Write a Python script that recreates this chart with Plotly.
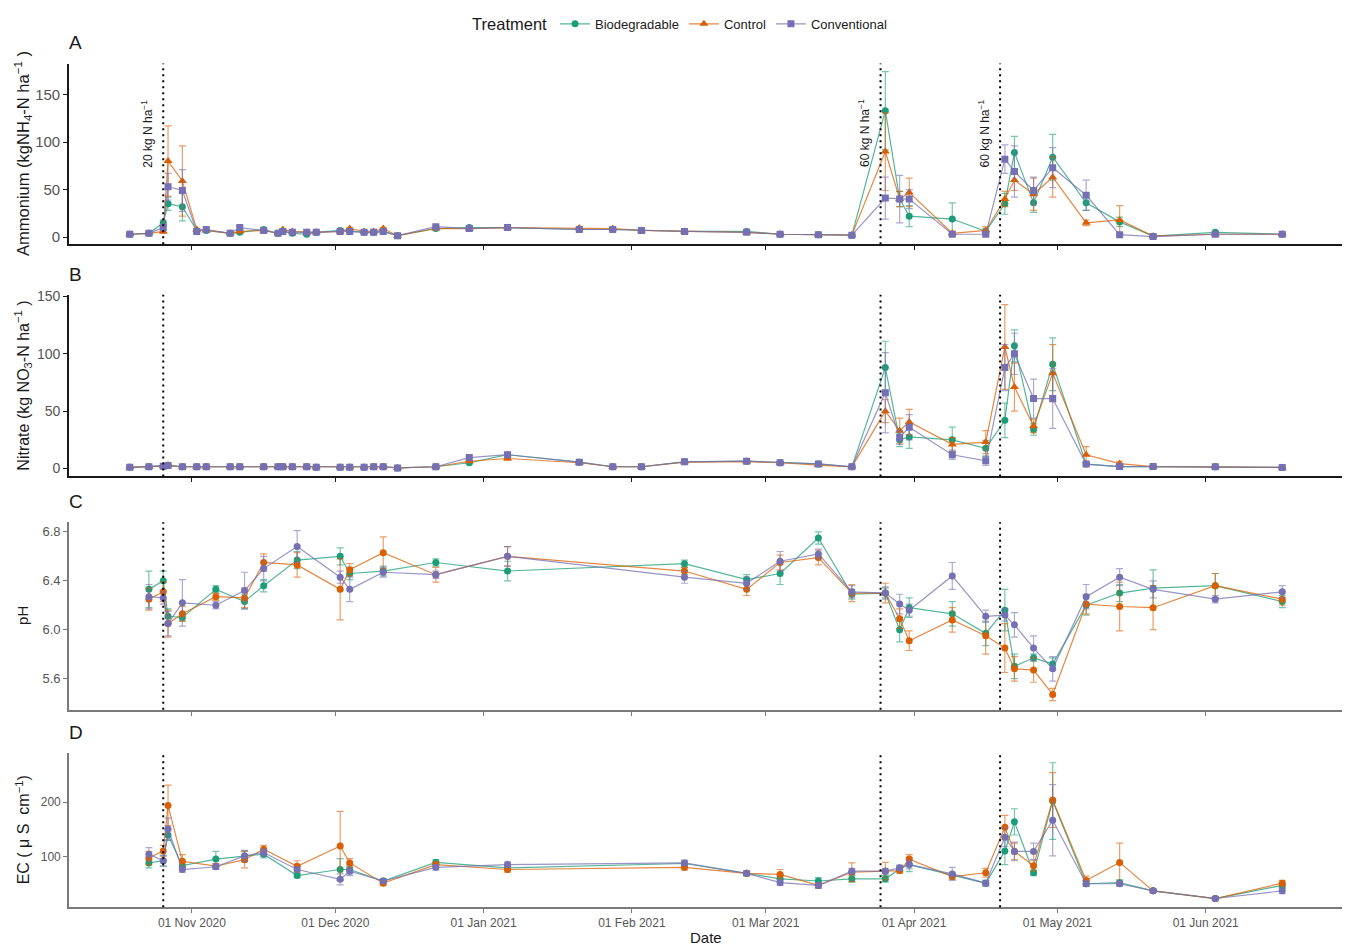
import plotly.graph_objects as go

W, H = 1354, 946
FONT = "Liberation Sans, Arial, sans-serif"

TREATMENTS = ["Biodegradable", "Control", "Conventional"]
COLORS = ["#1B9E77", "#D95F02", "#7570B3"]
SYMBOLS_N = ["circle", "triangle-up", "square"]

# fertiliser applications (date, label)
FERT_DATES = ["2020-10-26", "2021-03-25", "2021-04-19"]
FERT_LABELS = ["20 kg N ha<sup>−1</sup>", "60 kg N ha<sup>−1</sup>", "60 kg N ha<sup>−1</sup>"]

# ---- mineral N sampling dates ----
N_DATES = ["2020-10-19", "2020-10-23", "2020-10-26", "2020-10-27", "2020-10-30", "2020-11-02",
           "2020-11-04", "2020-11-09", "2020-11-11", "2020-11-16", "2020-11-19", "2020-11-20",
           "2020-11-22", "2020-11-25", "2020-11-27", "2020-12-02", "2020-12-04", "2020-12-07",
           "2020-12-09", "2020-12-11", "2020-12-14", "2020-12-22", "2020-12-29", "2021-01-06",
           "2021-01-21", "2021-01-28", "2021-02-03", "2021-02-12", "2021-02-25", "2021-03-04",
           "2021-03-12", "2021-03-19", "2021-03-26", "2021-03-29", "2021-03-31", "2021-04-09",
           "2021-04-16", "2021-04-20", "2021-04-22", "2021-04-26", "2021-04-30", "2021-05-07",
           "2021-05-14", "2021-05-21", "2021-06-03", "2021-06-17"]

NH4_BIO = [3, 4, 15, 35, 32, 7, 7, 4, 5, 8, 4, 6, 4, 3, 5, 7, 6, 5, 5, 6, 1.5, 9, 10, 10, 8, 8, 7, 6, 6, 3,
           2.5, 2, 133, 40, 22, 19, 6, 35, 89, 36, 84, 36, 16, 1, 5, 3]
NH4_BIO_SE = [1, 1, 3, 7, 15, 1, 1, 1, 1, 1, 1, 1, 1, 1, 1, 1, 1, 1, 1, 1, 1, 1, 1, 1, 1, 1, 1, 1, 1, 1,
              1, 1, 41, 8, 11, 17, 3, 11, 17, 10, 24, 8, 5, 1, 1, 1]
NH4_CTRL = [3, 4, 6, 80, 59, 8, 7, 4, 6, 7, 4, 8, 6, 5, 5, 6, 9, 6, 6, 9, 1.5, 9, 9, 10, 9.5, 9, 7, 6, 5, 3,
            2.5, 2, 90, 40, 47, 4, 7, 40, 60, 45, 63, 15, 18, 1, 3, 3]
NH4_CTRL_SE = [1, 1, 2, 37, 37, 1, 1, 1, 1, 1, 1, 1, 1, 1, 1, 1, 1, 1, 1, 1, 1, 1, 1, 1, 1, 1, 1, 1, 1, 1,
               1, 1, 41, 8, 15, 2, 4, 8, 11, 17, 21, 3, 15, 1, 1, 1]
NH4_CONV = [3, 4, 10, 53, 49, 6, 8, 4, 10, 7, 4, 6, 5, 5, 5, 6, 6, 5, 5, 6, 1.5, 11, 9, 10, 8, 8, 7, 6, 5, 3,
            2.5, 2, 41, 40, 40, 3, 3, 82, 69, 49, 73, 44, 2.5, 0.5, 3, 3]
NH4_CONV_SE = [1, 1, 2, 14, 22, 1, 1, 1, 2, 1, 1, 1, 1, 1, 1, 1, 1, 1, 1, 1, 1, 1, 1, 1, 1, 1, 1, 1, 1, 1,
               1, 1, 22, 25, 10, 1, 1, 15, 27, 14, 21, 16, 1, 0.5, 1, 1]

NO3_BIO = [1, 1.5, 2, 2.5, 1.5, 1.5, 1.5, 1.5, 1.5, 1.5, 1.5, 1.5, 1.5, 1.5, 1, 1, 1, 1, 1.5, 1.5,
           0.5, 1.5, 5, 12, 5.5, 1.5, 1.5, 5.8, 6.4, 5, 4, 1.4, 88, 25, 27.5, 25, 17.6, 42, 107, 34,
           91, 3.8, 1.7, 1.7, 1.4, 0.9]
NO3_BIO_SE = [0.5] * 20 + [0.5, 0.5, 1, 1.5, 1, 0.5, 0.5, 1, 1, 1,
                           1, 0.5, 23, 6, 10, 11, 7, 15, 14, 5, 23, 1, 0.5, 0.5, 0.5, 0.5]
NO3_CTRL = [1, 1.5, 2, 3, 1.5, 1.5, 1.5, 1.5, 1.5, 1.5, 1.5, 1.5, 1.5, 1.5, 1, 1, 1, 1, 1.5, 1.5,
            0.5, 1.5, 6.3, 8.7, 5, 1.5, 1.5, 5.5, 6, 5, 3, 1.4, 50, 33, 40.5, 21, 23, 106, 71, 37,
            83, 12, 4.3, 1.7, 1.4, 0.9]
NO3_CTRL_SE = [0.5] * 20 + [0.5, 0.5, 1, 1.5, 1, 0.5, 0.5, 1, 1, 1,
                            1, 0.5, 10, 11, 11, 6, 10, 37, 21, 6, 25, 7, 2, 0.5, 0.5, 0.5]
NO3_CONV = [1, 1.5, 2, 2.5, 1.5, 1.5, 1.5, 1.5, 1.5, 1.5, 1.5, 1.5, 1.5, 1.5, 1, 1, 1, 1, 1.5, 1.5,
            0.5, 1.5, 9.5, 12, 5.5, 1.5, 1.5, 5.8, 6.4, 5, 4, 1.4, 66, 27, 36, 12, 6.7, 88, 100, 61,
            61, 3.8, 1.7, 1.7, 1.4, 0.9]
NO3_CONV_SE = [0.5] * 20 + [0.5, 0.5, 1, 1.5, 1, 0.5, 0.5, 1, 1, 1,
                            1, 0.5, 35, 6, 11, 4, 4, 20, 18, 17, 26, 1, 0.5, 0.5, 0.5, 0.5]

# ---- soil pH / EC sampling dates ----
S_DATES = ["2020-10-23", "2020-10-26", "2020-10-27", "2020-10-30", "2020-11-06", "2020-11-12",
           "2020-11-16", "2020-11-23", "2020-12-02", "2020-12-04", "2020-12-11", "2020-12-22",
           "2021-01-06", "2021-02-12", "2021-02-25", "2021-03-04", "2021-03-12", "2021-03-19",
           "2021-03-26", "2021-03-29", "2021-03-31", "2021-04-09", "2021-04-16", "2021-04-20",
           "2021-04-22", "2021-04-26", "2021-04-30", "2021-05-07", "2021-05-14", "2021-05-21",
           "2021-06-03", "2021-06-17"]

PH_BIO = [6.33, 6.40, 6.11, 6.10, 6.33, 6.23, 6.36, 6.57, 6.60, 6.46, 6.48, 6.55, 6.48, 6.54, 6.41, 6.46,
          6.75, 6.29, 6.30, 6.00, 6.18, 6.13, 5.97, 6.16, 5.70, 5.77, 5.72, 6.20, 6.30, 6.34, 6.36, 6.23]
PH_BIO_SE = [0.15, 0.08, 0.06, 0.03, 0.03, 0.06, 0.05, 0.07, 0.07, 0.05, 0.04, 0.03, 0.08, 0.03, 0.04, 0.09,
             0.05, 0.04, 0.04, 0.1, 0.08, 0.1, 0.1, 0.17, 0.1, 0.03, 0.05, 0.08, 0.07, 0.15, 0.1, 0.05]
PH_CTRL = [6.25, 6.31, 6.05, 6.13, 6.27, 6.26, 6.55, 6.53, 6.33, 6.49, 6.63, 6.45, 6.60, 6.48, 6.33, 6.55,
           6.59, 6.30, 6.30, 6.09, 5.91, 6.08, 5.95, 5.85, 5.68, 5.67, 5.47, 6.21, 6.19, 6.18, 6.36, 6.25]
PH_CTRL_SE = [0.09, 0.08, 0.11, 0.06, 0.03, 0.08, 0.07, 0.10, 0.25, 0.05, 0.13, 0.06, 0.08, 0.03, 0.05, 0.06,
              0.06, 0.07, 0.08, 0.08, 0.08, 0.1, 0.15, 0.2, 0.1, 0.1, 0.05, 0.08, 0.2, 0.18, 0.1, 0.05]
PH_CONV = [6.27, 6.26, 6.05, 6.22, 6.20, 6.32, 6.50, 6.68, 6.43, 6.33, 6.47, 6.45, 6.60, 6.43, 6.38, 6.56,
           6.62, 6.31, 6.30, 6.21, 6.16, 6.44, 6.11, 6.12, 6.04, 5.85, 5.68, 6.27, 6.43, 6.33, 6.25, 6.31]
PH_CONV_SE = [0.1, 0.05, 0.1, 0.19, 0.03, 0.15, 0.1, 0.13, 0.05, 0.1, 0.04, 0.03, 0.08, 0.05, 0.05, 0.08,
              0.04, 0.05, 0.05, 0.08, 0.05, 0.11, 0.05, 0.05, 0.1, 0.1, 0.1, 0.1, 0.07, 0.07, 0.03, 0.05]

EC_BIO = [89, 93, 140, 84, 96, 101, 105, 66, 77, 77, 56, 90, 80, 88, 70, 60,
          56, 60, 60, 78, 86, 67, 52, 111, 164, 71, 202, 51, 53, 38, 24, 48]
EC_BIO_SE = [9, 10, 10, 5, 14, 10, 7, 4, 20, 8, 4, 5, 5, 5, 4, 5,
             6, 6, 6, 5, 13, 5, 5, 25, 24, 5, 70, 5, 5, 3, 3, 5]
EC_CTRL = [98, 111, 194, 92, 83, 95, 114, 83, 120, 89, 52, 86, 77, 81, 70, 68,
           48, 72, 74, 75, 96, 64, 71, 154, 110, 84, 204, 57, 90, 38, 24, 52]
EC_CTRL_SE = [12, 10, 37, 12, 5, 15, 7, 10, 63, 8, 4, 5, 5, 5, 4, 9,
              5, 17, 16, 5, 8, 5, 8, 22, 15, 10, 50, 8, 35, 3, 3, 5]
EC_CONV = [105, 93, 151, 77, 82, 102, 108, 77, 59, 74, 56, 81, 86, 89, 70, 53,
           48, 74, 74, 80, 86, 69, 52, 136, 110, 110, 167, 51, 51, 38, 24, 38]
EC_CONV_SE = [12, 10, 20, 5, 5, 10, 7, 5, 10, 8, 4, 5, 5, 5, 4, 5,
              5, 5, 5, 5, 8, 12, 5, 17, 17, 15, 65, 5, 5, 3, 3, 5]

X_RANGE = ["2020-10-06 07:00", "2021-06-29 12:00"]


def rgba(hex_color, a):
    h = hex_color.lstrip("#")
    r, g, b = int(h[0:2], 16), int(h[2:4], 16), int(h[4:6], 16)
    return f"rgba({r},{g},{b},{a})"


def px_x(p):
    return p / W


def px_y(p):
    return 1 - p / H


# panel geometry in pixels: left, right, top, bottom
LEFT, RIGHT = 69, 1342
panels = [
    dict(letter="A", top=58, bottom=240, dates=N_DATES,
         series=[(NH4_BIO, NH4_BIO_SE), (NH4_CTRL, NH4_CTRL_SE), (NH4_CONV, NH4_CONV_SE)],
         symbols=SYMBOLS_N, yrange=[-7.5, 182.5], ticks=[0, 50, 100, 150], tickfmt="d",
         title="Ammonium (kgNH<sub>4</sub>-N ha<sup>−1</sup> )", title_size=16.5, tick_size=15,
         axis_color="#1a1a1a"),
    dict(letter="B", top=291, bottom=474, dates=N_DATES,
         series=[(NO3_BIO, NO3_BIO_SE), (NO3_CTRL, NO3_CTRL_SE), (NO3_CONV, NO3_CONV_SE)],
         symbols=SYMBOLS_N, yrange=[-7, 151.5], ticks=[0, 50, 100, 150], tickfmt="d",
         title="Nitrate (kg NO<sub>3</sub>-N ha<sup>−1</sup> )", title_size=16, tick_size=14,
         axis_color="#1a1a1a"),
    dict(letter="C", top=520, bottom=709, dates=S_DATES,
         series=[(PH_BIO, PH_BIO_SE), (PH_CTRL, PH_CTRL_SE), (PH_CONV, PH_CONV_SE)],
         symbols=["circle"] * 3, yrange=[5.345, 6.88], ticks=[5.6, 6.0, 6.4, 6.8], tickfmt=".1f",
         title="pH", title_size=15, tick_size=13, axis_color="#7a7a7a"),
    dict(letter="D", top=753, bottom=908, dates=S_DATES,
         series=[(EC_BIO, EC_BIO_SE), (EC_CTRL, EC_CTRL_SE), (EC_CONV, EC_CONV_SE)],
         symbols=["circle"] * 3, yrange=[8, 289], ticks=[100, 200], tickfmt="d",
         title="EC ( μ S  cm<sup>−1</sup>)", title_size=16, tick_size=12, axis_color="#7a7a7a"),
]

fig = go.Figure()
layout = dict(
    width=W, height=H, margin=dict(l=0, r=0, t=0, b=0),
    paper_bgcolor="white", plot_bgcolor="white",
    font=dict(family=FONT, color="#1a1a1a"),
    showlegend=True,
    legend=dict(orientation="h", x=0.503, xanchor="center", y=px_y(19), yanchor="middle",
                title=dict(text="Treatment", font=dict(size=16.5, color="#1a1a1a"), side="left"),
                font=dict(size=13, color="#1a1a1a"), itemwidth=30, tracegroupgap=0,
                bgcolor="rgba(0,0,0,0)"),
)
shapes = []
annotations = []

for i, p in enumerate(panels):
    n = i + 1
    xa = "x" if n == 1 else f"x{n}"
    ya = "y" if n == 1 else f"y{n}"
    for k, name in enumerate(TREATMENTS):
        vals, se = p["series"][k]
        fig.add_trace(go.Scatter(
            x=p["dates"], y=vals, xaxis=xa, yaxis=ya, name=name,
            mode="lines+markers", legendgroup=name, showlegend=(n == 1),
            line=dict(color=rgba(COLORS[k], 0.75), width=1.2),
            marker=dict(color=COLORS[k], symbol=p["symbols"][k],
                        size=8 if p["symbols"][k] == "triangle-up" else 7,
                        line=dict(width=0)),
            error_y=dict(type="data", array=se, visible=True, color=rgba(COLORS[k], 0.6),
                         thickness=1.2, width=3.5),
        ))

    dom_y = [px_y(p["bottom"]), px_y(p["top"])]
    layout["xaxis" if n == 1 else f"xaxis{n}"] = dict(
        domain=[px_x(LEFT), px_x(RIGHT)], anchor=ya, type="date", range=X_RANGE,
        tick0="2020-11-01", dtick="M1", tickformat="%d %b %Y",
        showticklabels=(n == 4), ticks="outside", ticklen=4, tickwidth=1.2,
        tickcolor=p["axis_color"], showline=True, linecolor=p["axis_color"], linewidth=1.6,
        showgrid=False, zeroline=False,
        tickfont=dict(size=12, color="#555555", family=FONT),
    )
    layout["yaxis" if n == 1 else f"yaxis{n}"] = dict(
        domain=dom_y, anchor=xa, range=p["yrange"], tickvals=p["ticks"], tickformat=p["tickfmt"],
        ticks="outside", ticklen=4, tickwidth=1.2, tickcolor=p["axis_color"],
        showline=True, linecolor=p["axis_color"], linewidth=1.6,
        showgrid=False, zeroline=False,
        tickfont=dict(size=p["tick_size"], color="#555555", family=FONT),
    )

    # fertiliser application dates
    for d in FERT_DATES:
        shapes.append(dict(type="line", xref=xa, yref=f"{ya} domain", x0=d, x1=d, y0=0, y1=1,
                           line=dict(color="black", width=2, dash="2px,4px"), layer="above"))

    # panel letter
    annotations.append(dict(text=p["letter"], xref="paper", yref="paper",
                            x=px_x(67), y=px_y(p["top"] - 21), xanchor="left", yanchor="middle",
                            showarrow=False, font=dict(size=19, color="#1a1a1a")))
    # y-axis title
    annotations.append(dict(text=p["title"], xref="paper", yref="paper", textangle=-90,
                            x=px_x(23), y=px_y((p["top"] + p["bottom"]) / 2),
                            xanchor="center", yanchor="middle", showarrow=False,
                            font=dict(size=p["title_size"], color="#1a1a1a")))

# fertiliser rate labels in panel A
for d, lab in zip(FERT_DATES, FERT_LABELS):
    annotations.append(dict(text=lab, xref="x", yref="y", x=d, y=109, xshift=-16,
                            textangle=-90, showarrow=False, xanchor="center", yanchor="middle",
                            font=dict(size=12, color="#1a1a1a")))

# x-axis title
annotations.append(dict(text="Date", xref="paper", yref="paper", x=px_x((LEFT + RIGHT) / 2),
                        y=px_y(938), xanchor="center", yanchor="middle", showarrow=False,
                        font=dict(size=15, color="#1a1a1a")))

layout["shapes"] = shapes
layout["annotations"] = annotations
fig.update_layout(**layout)

fig.write_html("out.html")
